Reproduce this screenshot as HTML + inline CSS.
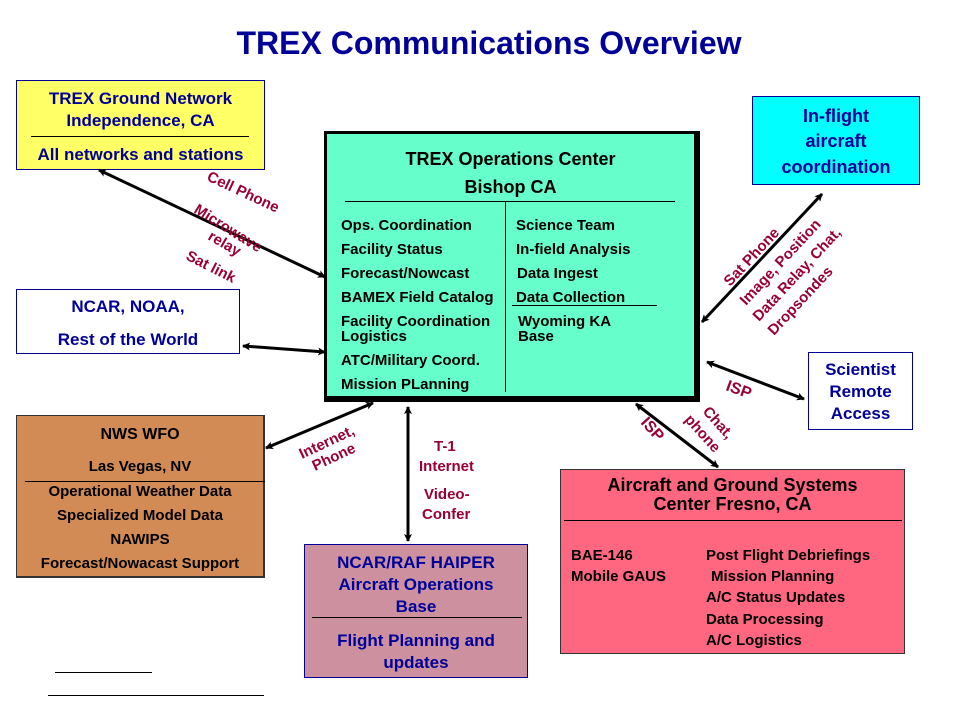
<!DOCTYPE html>
<html><head><meta charset="utf-8"><style>
body{margin:0;width:960px;height:720px;background:#fff;position:relative;overflow:hidden;font-family:"Liberation Sans",Arial,sans-serif;font-weight:bold}
.b{position:absolute;box-sizing:border-box}
.t{position:absolute;white-space:nowrap;line-height:1}
.c{text-align:center;left:0;right:0}
.hl{position:absolute;height:1px;background:#000}
</style></head><body>
<div class="t c" style="top:27px;font-size:32px;color:#000099;left:18px">TREX Communications Overview</div>

<div class="b" style="left:16px;top:80px;width:249px;height:90px;background:#ffff66;border:1px solid #000099;color:#000099;font-size:17px">
<div class="t c" style="top:9px">TREX Ground Network</div>
<div class="t c" style="top:31px">Independence, CA</div>
<div class="hl" style="left:14px;width:218px;top:55px"></div>
<div class="t c" style="top:65px">All networks and stations</div>
</div>

<div class="b" style="left:16px;top:289px;width:224px;height:65px;background:#fff;border:1px solid #000099;color:#000099;font-size:17px">
<div class="t c" style="top:8px">NCAR, NOAA,</div>
<div class="t c" style="top:41px">Rest of the World</div>
</div>

<div class="b" style="left:324px;top:131px;width:376px;height:271px;background:#66ffcc;border:3px solid #000;border-right-width:6px;border-bottom-width:6px;font-size:15px;color:#000">
<div class="t c" style="top:16px;font-size:18px">TREX Operations Center</div>
<div class="t c" style="top:44px;font-size:18px">Bishop CA</div>
<div class="hl" style="left:18px;width:330px;top:67px"></div>
<div style="position:absolute;left:178px;top:68px;width:1px;height:190px;background:#000"></div>
<div class="t" style="left:14px;top:84px">Ops. Coordination</div>
<div class="t" style="left:14px;top:108px">Facility Status</div>
<div class="t" style="left:14px;top:132px">Forecast/Nowcast</div>
<div class="t" style="left:14px;top:156px">BAMEX Field Catalog</div>
<div class="t" style="left:14px;top:180px">Facility Coordination</div>
<div class="t" style="left:14px;top:195px">Logistics</div>
<div class="t" style="left:14px;top:219px">ATC/Military Coord.</div>
<div class="t" style="left:14px;top:243px">Mission PLanning</div>
<div class="t" style="left:189px;top:84px">Science Team</div>
<div class="t" style="left:189px;top:108px">In-field Analysis</div>
<div class="t" style="left:190px;top:132px">Data Ingest</div>
<div class="t" style="left:189px;top:156px">Data Collection</div>
<div class="hl" style="left:185px;width:145px;top:171px"></div>
<div class="t" style="left:191px;top:180px">Wyoming KA</div>
<div class="t" style="left:191px;top:195px">Base</div>
</div>

<div class="b" style="left:752px;top:96px;width:168px;height:89px;background:#00ffff;border:1px solid #000099;color:#000099;font-size:18px">
<div class="t c" style="top:10px">In-flight</div>
<div class="t c" style="top:35px">aircraft</div>
<div class="t c" style="top:61px">coordination</div>
</div>

<div class="b" style="left:808px;top:352px;width:105px;height:78px;background:#fff;border:1px solid #000099;color:#000099;font-size:17px">
<div class="t c" style="top:8px">Scientist</div>
<div class="t c" style="top:30px">Remote</div>
<div class="t c" style="top:52px">Access</div>
</div>

<div class="b" style="left:16px;top:415px;width:249px;height:163px;background:#d38b55;border:1px solid #333;border-right-width:2px;border-bottom-width:2px;color:#000;font-size:15px">
<div class="t c" style="top:11px;font-size:16px">NWS WFO</div>
<div class="t c" style="top:43px">Las Vegas, NV</div>
<div class="hl" style="left:8px;width:240px;top:65px"></div>
<div class="t c" style="top:68px">Operational Weather Data</div>
<div class="t c" style="top:92px">Specialized Model Data</div>
<div class="t c" style="top:116px">NAWIPS</div>
<div class="t c" style="top:140px">Forecast/Nowacast Support</div>
</div>

<div class="b" style="left:304px;top:544px;width:224px;height:134px;background:#cc909e;border:1px solid #000099;color:#000099;font-size:17px">
<div class="t c" style="top:9px">NCAR/RAF HAIPER</div>
<div class="t c" style="top:31px">Aircraft Operations</div>
<div class="t c" style="top:53px">Base</div>
<div class="hl" style="left:7px;width:210px;top:72px"></div>
<div class="t c" style="top:87px">Flight Planning and</div>
<div class="t c" style="top:109px">updates</div>
</div>

<div class="b" style="left:560px;top:469px;width:345px;height:185px;background:#ff6680;border:1px solid #333;color:#000;font-size:15px">
<div class="t c" style="top:6px;font-size:18px">Aircraft and Ground Systems</div>
<div class="t c" style="top:25px;font-size:18px">Center Fresno, CA</div>
<div class="hl" style="left:3px;width:338px;top:50px"></div>
<div class="t" style="left:10px;top:78px">BAE-146</div>
<div class="t" style="left:10px;top:99px">Mobile GAUS</div>
<div class="t" style="left:145px;top:78px">Post Flight Debriefings</div>
<div class="t" style="left:150px;top:99px">Mission Planning</div>
<div class="t" style="left:145px;top:120px">A/C Status Updates</div>
<div class="t" style="left:145px;top:142px">Data Processing</div>
<div class="t" style="left:145px;top:163px">A/C Logistics</div>
</div>

<div class="hl" style="left:55px;width:97px;top:672px"></div>
<div class="hl" style="left:48px;width:216px;top:695px"></div>

<svg width="960" height="720" style="position:absolute;left:0;top:0" font-family="Liberation Sans, Arial, sans-serif" font-weight="bold" font-size="15" fill="#990033">
<defs><marker id="a" markerWidth="8" markerHeight="8" refX="7" refY="4" orient="auto-start-reverse" markerUnits="userSpaceOnUse"><path d="M0,0 L8,4 L0,8 L2,4 z" fill="#000"/></marker></defs>
<g stroke="#000" stroke-width="3" marker-start="url(#a)" marker-end="url(#a)">
<line x1="99" y1="170" x2="325" y2="277"/>
<line x1="243" y1="346" x2="325" y2="352"/>
<line x1="373" y1="403" x2="266" y2="448"/>
<line x1="408" y1="407" x2="408" y2="541"/>
<line x1="636" y1="404" x2="718" y2="467"/>
<line x1="707" y1="362" x2="804" y2="399"/>
<line x1="702" y1="322" x2="822" y2="194"/>
</g>
<text transform="translate(206,180) rotate(25)">Cell Phone</text>
<text transform="translate(193,212) rotate(32)">Microwave</text>
<text transform="translate(207,239) rotate(30)">relay</text>
<text transform="translate(185,259) rotate(27)">Sat link</text>
<text transform="translate(302,459) rotate(-25)">Internet,</text>
<text transform="translate(315,471) rotate(-25)">Phone</text>
<text x="434" y="451">T-1</text>
<text x="419" y="471">Internet</text>
<text x="424" y="499">Video-</text>
<text x="422" y="519">Confer</text>
<text transform="translate(730,287) rotate(-47)">Sat Phone</text>
<text transform="translate(746,306) rotate(-47)">Image, Position</text>
<text transform="translate(759,322) rotate(-47)">Data Relay, Chat,</text>
<text transform="translate(774,336) rotate(-47)">Dropsondes</text>
<text transform="translate(725,390) rotate(20)" font-size="16">ISP</text>
<text transform="translate(640,423) rotate(48)" font-size="16">ISP</text>
<text transform="translate(702,412) rotate(48)">Chat,</text>
<text transform="translate(684,420) rotate(48)">phone</text>
</svg>
</body></html>
